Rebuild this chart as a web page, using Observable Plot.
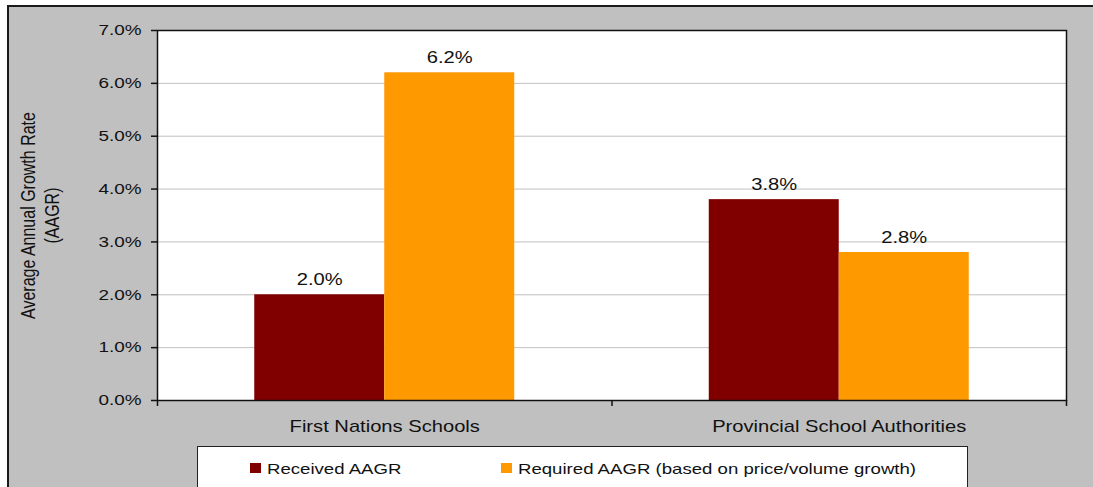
<!DOCTYPE html>
<html>
<head>
<meta charset="utf-8">
<script src="https://cdn.jsdelivr.net/npm/d3@7"></script>
<script src="https://cdn.jsdelivr.net/npm/@observablehq/plot@0.6"></script>
<style>
  html, body { margin: 0; padding: 0; background: #fff; }
  #wrap { position: relative; width: 1093px; height: 487px; overflow: hidden; background: #fff; }
  #panel { position: absolute; left: 7px; top: 5px; width: 1120px; height: 520px; background: #c0c0c0;
           border-top: 2px solid #1a1a1a; border-left: 2px solid #1a1a1a; }
  #chart { position: absolute; left: 0; top: 0; }
  #legend { position: absolute; left: 197px; top: 446px; width: 769px; height: 60px; background: #fff;
            border: 1px solid #222; font-family: "Liberation Sans", Arial, sans-serif;
            font-size: 15px; color: #111; }
  .sw { position: absolute; top: 16px; width: 11px; height: 10px; }
  .lt { position: absolute; top: 14px; white-space: nowrap; transform-origin: 0 0; line-height: 15px; }
</style>
</head>
<body>
<div id="wrap">
  <div id="panel"></div>
  <div id="chart"></div>
  <div id="legend"></div>
</div>
<script>
// ---- data ----
const categories = ["First Nations Schools", "Provincial School Authorities"];
const seriesNames = ["Received AAGR", "Required AAGR (based on price/volume growth)"];
const received = [0.020, 0.038];
const required = [0.062, 0.028];
const yTicks = [0, 0.01, 0.02, 0.03, 0.04, 0.05, 0.06, 0.07];
const yTitle = "Average Annual Growth Rate\n(AAGR)";

// ---- styles ----
const colors = ["#800000", "#ff9900"];
const BW = 0.286;      // bar width as a fraction of a category band
const STRETCH = 1.26;  // horizontal stretch of the lettering in the reference
const font = "Liberation Sans, Arial, sans-serif";

const rows = categories.flatMap((c, i) => [
  {cat: c, i, s: 0, v: received[i]},
  {cat: c, i, s: 1, v: required[i]}
]);
const fmt = d3.format(".1%");

const plot = Plot.plot({
  width: 1093,
  height: 487,
  marginLeft: 157,
  marginRight: 27,
  marginTop: 30,
  marginBottom: 87,
  style: {background: "transparent", color: "#111", fontFamily: font},
  x: {domain: [0, 2], axis: null},
  y: {domain: [0, 0.07], axis: null},
  color: {domain: seriesNames, range: colors},
  marks: [
    Plot.frame({fill: "white", stroke: null}),
    Plot.gridY(yTicks, {stroke: "#c0c0c0", strokeOpacity: 1}),
    Plot.rectY(rows, {
      x1: d => d.i + 0.5 + (d.s - 1) * BW,
      x2: d => d.i + 0.5 + d.s * BW,
      y: "v",
      fill: d => seriesNames[d.s]
    }),
    Plot.text(rows, {
      x: d => d.i + 0.5 + (d.s - 0.5) * BW,
      y: "v",
      text: d => fmt(d.v),
      lineAnchor: "bottom",
      dy: -10,
      fontSize: 16,
      fill: "#111"
    }),
    Plot.frame({stroke: "#111", strokeWidth: 1.5}),
    Plot.axisY(yTicks, {
      tickFormat: fmt, tickSize: 6, tickPadding: 10, fontSize: 15,
      stroke: "#111", strokeWidth: 1.5, label: null
    }),
    Plot.axisX([0, 1, 2], {tickFormat: () => "", tickSize: 6, stroke: "#111", strokeWidth: 1.5, label: null}),
    Plot.axisX([0.5, 1.5], {
      tickFormat: d => categories[Math.floor(d)], tickSize: 0, tickPadding: 20,
      fontSize: 16, label: null
    }),
    Plot.text([yTitle], {
      frameAnchor: "left", textAnchor: "middle", rotate: -90, dx: -118.5,
      fontSize: 16, lineHeight: 1.24, fill: "#111"
    })
  ]
});
document.getElementById("chart").appendChild(plot);

// widen the lettering horizontally, as in the reference
plot.querySelectorAll("text").forEach(t => {
  const tr = t.getAttribute("transform") || "";
  const x = +t.getAttribute("x") || 0, y = +t.getAttribute("y") || 0;
  if (/rotate/.test(tr)) t.setAttribute("transform", tr.replace(/rotate/, `scale(${STRETCH},1) rotate`));
  else t.setAttribute("transform", `${tr} translate(${x},${y}) scale(${STRETCH},1) translate(${-x},${-y})`);
});

// ---- legend ----
const legend = document.getElementById("legend");
const swLeft = [52, 303];
const txtLeft = [69, 320];
seriesNames.forEach((name, k) => {
  const sw = document.createElement("div");
  sw.className = "sw";
  sw.style.left = swLeft[k] + "px";
  sw.style.background = colors[k];
  legend.appendChild(sw);
  const t = document.createElement("div");
  t.className = "lt";
  t.style.left = txtLeft[k] + "px";
  t.style.transform = `scaleX(${STRETCH - 0.02})`;
  t.textContent = name;
  legend.appendChild(t);
});
</script>
</body>
</html>
